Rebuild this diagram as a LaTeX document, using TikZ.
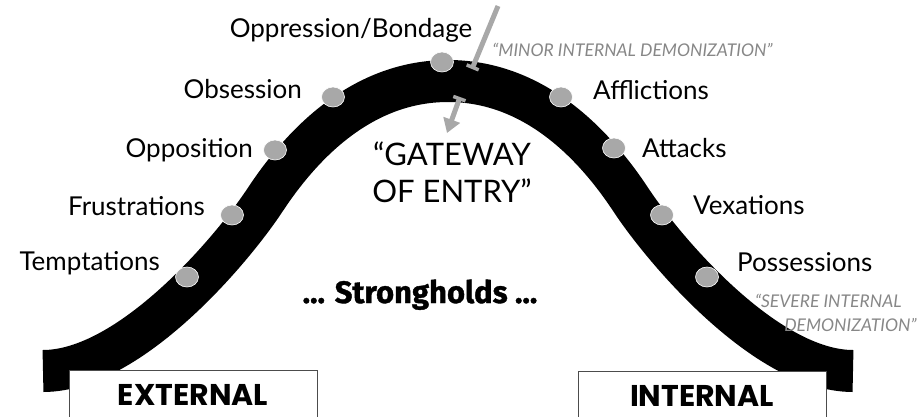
\documentclass[tikz,border=0pt]{standalone}
\usepackage{fontspec}
\setmainfont{Lato}
\newfontfamily\heavyfont[BoldFeatures={FakeBold=1.2}]{Fira Sans}
\newfontfamily\boxfont{Poppins}
\usetikzlibrary{positioning,shapes.geometric,arrows.meta}
\definecolor{dotgray}{RGB}{168,168,168}
\definecolor{notegray}{RGB}{135,135,135}

\begin{document}
\begin{tikzpicture}[x=1pt,y=-1pt,>=latex,thick]
        \tikzstyle{band} = [line width=42pt, black]
        \tikzstyle{stage} = [ellipse, fill=dotgray, draw=white, line width=0.6pt, minimum width=23pt, minimum height=20pt, inner sep=0pt]
        \tikzstyle{lbl} = [inner sep=0pt, font=\fontsize{26}{30}\selectfont]
        \tikzstyle{note} = [inner sep=0pt, text=notegray, font=\fontsize{17.5}{24}\selectfont\itshape]
        \tikzstyle{tagbox} = [draw=black!70, fill=white, line width=0.8pt, minimum width=248pt, minimum height=50pt, font=\boxfont\bfseries\fontsize{30}{32}\selectfont]
        \tikzstyle{gatearrow} = [draw=dotgray, line width=5pt]

        \useasboundingbox (0,0) rectangle (922,416);

        % The curve
        \coordinate (bandL) at (43,371);
        \coordinate (peak) at (448,81);
        \coordinate (bandR) at (853,371);
        \draw[band] (bandL) .. controls (130,371) and (232,250) .. (265,200)
                            .. controls (298,150) and (358,81) .. (peak)
                            .. controls (538,81) and (598,150) .. (631,200)
                            .. controls (664,250) and (766,371) .. (bandR);

        % Stages on the curve
        \node[stage] (tempt) at (187,277) {};
        \node[stage] (frust) at (232,215) {};
        \node[stage] (oppos) at (275,150) {};
        \node[stage] (obsess) at (333,97) {};
        \node[stage] (bond) at (442,62) {};
        \node[stage] (afflict) at (561,97) {};
        \node[stage] (attack) at (614,148) {};
        \node[stage] (vex) at (662,215) {};
        \node[stage] (possess) at (707,277) {};

        % Labels, left side
        \node[lbl, anchor=base east, xshift=-15pt, yshift=7pt] (temptL) at (tempt.west) {Temptations};
        \node[lbl, anchor=base east, xshift=-15pt] (frustL) at (frust.west) {Frustrations};
        \node[lbl, anchor=base east, xshift=-10pt, yshift=-7pt] (opposL) at (oppos.west) {Opposition};
        \node[lbl, anchor=base east, xshift=-19pt, yshift=-1pt] (obsessL) at (obsess.west) {Obsession};
        \node[lbl, above=9pt of bond, xshift=-91pt] (bondL) {Oppression/Bondage};

        % Labels, right side
        \node[lbl, anchor=base west, xshift=20pt, yshift=-2pt] (afflictL) at (afflict.east) {Afflictions};
        \node[lbl, anchor=base west, xshift=16pt, yshift=-9pt] (attackL) at (attack.east) {Attacks};
        \node[lbl, anchor=base west, xshift=19pt, yshift=1pt] (vexL) at (vex.east) {Vexations};
        \node[lbl, anchor=base west, xshift=18pt, yshift=6pt] (possessL) at (possess.east) {Possessions};

        % Notes
        \node[note, anchor=base west] (minor) at (492,56) {“MINOR INTERNAL DEMONIZATION”};
        \node[note, align=right, anchor=north east] (severe) at (917,294) {“SEVERE INTERNAL\rule{15pt}{0pt}\\DEMONIZATION”};

        % Middle
        \node[lbl, align=center, anchor=north, font=\fontsize{31}{37}\selectfont] (gateway) at (452,141) {“GATEWAY\\OF ENTRY”};
        \node[anchor=base, font=\heavyfont\bfseries\fontsize{31}{33}\selectfont] (strongholds) at (420,303) {... Strongholds ...};

        % Bottom boxes
        \node[tagbox] (external) at (193,395) {EXTERNAL};
        \node[tagbox] (internal) at (702,396) {INTERNAL};

        % Gateway arrow
        \coordinate (arrtop) at (498,6);
        \coordinate (barA) at (472,69);
        \coordinate (barB) at (460,97);
        \coordinate (arrtip) at (447,133);
        \draw[gatearrow, -{Bar[width=13pt,line width=3.5pt]}] (arrtop) -- (barA);
        \draw[gatearrow, {Bar[width=13pt,line width=3.5pt]}-{Triangle[width=17pt,length=14pt]}] (barB) -- (arrtip);
    \end{tikzpicture}
\end{document}
